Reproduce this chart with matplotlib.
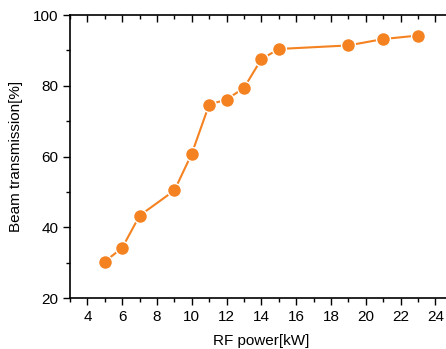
import matplotlib.pyplot as plt
from matplotlib.ticker import MultipleLocator

# data
rf_power = [5, 6, 7, 9, 10, 11, 12, 13, 14, 15, 19, 21, 23]
transmission = [30.3, 34.2, 43.3, 50.4, 60.8, 74.7, 76.1, 79.4, 87.5, 90.4, 91.4, 93.2, 94.2]

plt.rcParams['font.family'] = ['Liberation Sans', 'DejaVu Sans']

fig = plt.figure(figsize=(4.46, 3.49), dpi=100)
ax = fig.add_axes([0.157, 0.146, 0.858, 0.811])

ax.plot(rf_power, transmission, color='#F58220', lw=1.5, marker='o',
        markersize=10, markerfacecolor='#F58220', markeredgecolor='white',
        markeredgewidth=1.0)

ax.set_xlim(3, 25)
ax.set_ylim(20, 100)
ax.xaxis.set_major_locator(MultipleLocator(2))
ax.xaxis.set_minor_locator(MultipleLocator(1))
ax.yaxis.set_major_locator(MultipleLocator(20))
ax.yaxis.set_minor_locator(MultipleLocator(10))

ax.spines['right'].set_visible(False)
for s in ax.spines.values():
    s.set_linewidth(1.2)

ax.tick_params(which='both', direction='out', top=True, width=1.0, labelsize=11)
ax.tick_params(which='major', length=5)
ax.tick_params(which='minor', length=3)
# top ticks point inward
for t in ax.xaxis.get_major_ticks() + ax.xaxis.get_minor_ticks():
    t.tick2line.set_marker(3)

ax.set_xlabel('RF power[kW]', fontsize=11, labelpad=7)
ax.set_ylabel('Beam transmission[%]', fontsize=11, labelpad=7)

fig.savefig('out.png', dpi=100)
